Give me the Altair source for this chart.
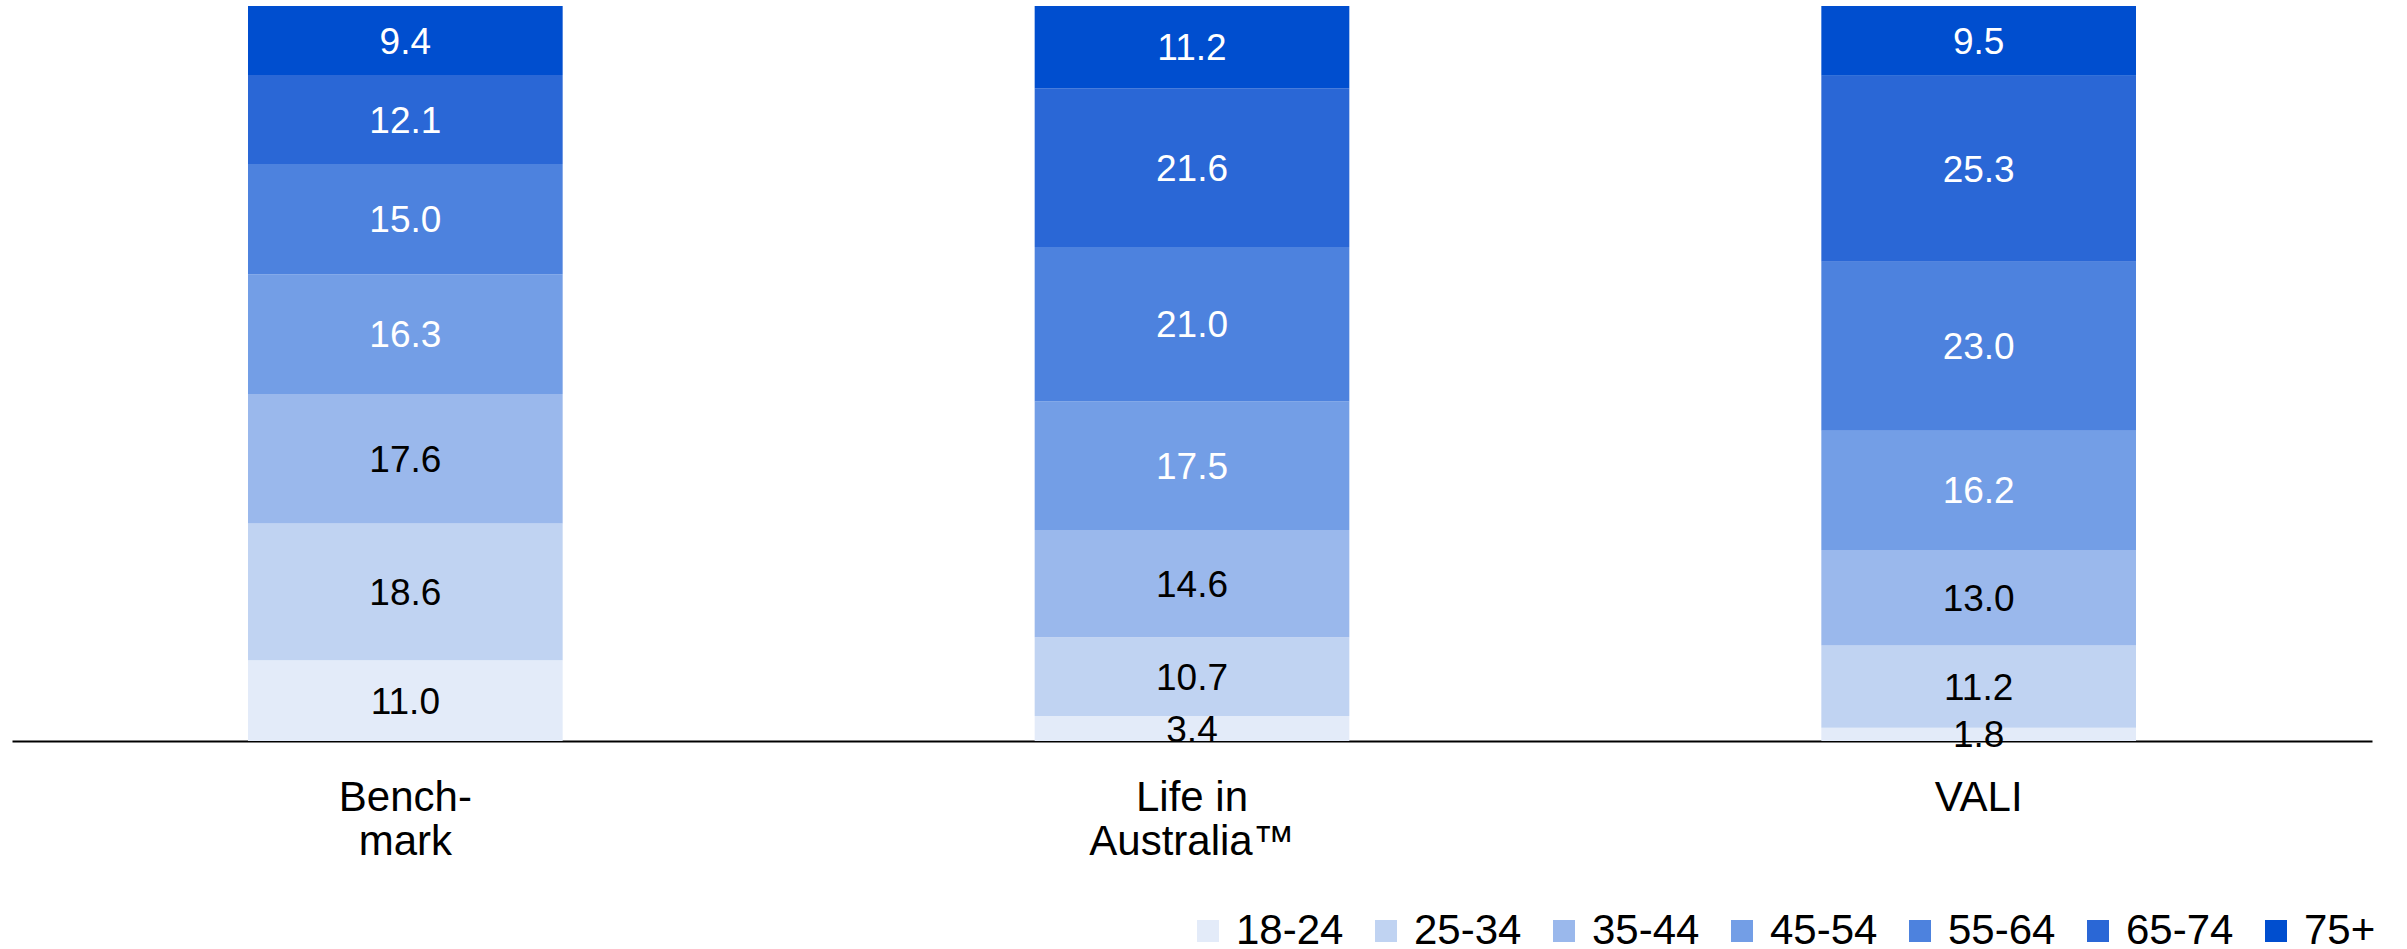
import altair as alt
import pandas as pd

categories = ["Bench-|mark", "Life in|Australia™", "VALI"]
age_groups = ["18-24", "25-34", "35-44", "45-54", "55-64", "65-74", "75+"]
colors = ["#E3EBF9", "#C0D3F2", "#9AB8EC", "#739EE6", "#4D82DE", "#2A67D6", "#004ECF"]
benchmark = [11.0, 18.6, 17.6, 16.3, 15.0, 12.1, 9.4]
life_in_australia = [3.4, 10.7, 14.6, 17.5, 21.0, 21.6, 11.2]
vali = [1.8, 11.2, 13.0, 16.2, 23.0, 25.3, 9.5]

series = [benchmark, life_in_australia, vali]
rows = []
for cat, vals in zip(categories, series):
    for i, (age, v) in enumerate(zip(age_groups, vals)):
        rows.append({"cat": cat, "age": age, "ord": i, "value": v})
df = pd.DataFrame(rows)

FONT = "Liberation Sans"

base = alt.Chart(df).transform_stack(
    stack="value", groupby=["cat"], as_=["y0", "y1"],
    sort=[alt.SortField("ord", order="ascending")]
).transform_calculate(
    mid="(datum.y0 + datum.y1) / 2",
    tc="datum.ord >= 3 ? 'white' : 'black'"
)

xenc = alt.X("cat:N", sort=categories, title=None,
             scale=alt.Scale(paddingInner=0.6, paddingOuter=0.3),
             axis=alt.Axis(labelAngle=0, labelExpr="split(datum.label, '|')",
                           labelFont=FONT, labelFontSize=42, labelColor="black",
                           labelLineHeight=44, labelPadding=36, labelBaseline="top",
                           labelLimit=600,
                           ticks=False, domainColor="black", domainWidth=2))
yscale = alt.Scale(domain=[0, 100], nice=False, zero=True)

bars = base.mark_bar().encode(
    x=xenc,
    y=alt.Y("y0:Q", scale=yscale, axis=None),
    y2="y1:Q",
    color=alt.Color("age:N", sort=age_groups,
                    scale=alt.Scale(domain=age_groups, range=colors),
                    legend=alt.Legend(title=None, orient="none", direction="horizontal",
                                      legendX=1175, legendY=904, symbolType="square",
                                      symbolSize=484, symbolStrokeWidth=0,
                                      labelFont=FONT, labelFontSize=42, labelColor="black",
                                      labelOffset=7, columnPadding=21, padding=0,
                                      labelLimit=300, symbolOpacity=1)),
)

labels = base.mark_text(font=FONT, fontSize=37, baseline="middle", align="center", dy=2).encode(
    x=alt.X("cat:N", sort=categories),
    y=alt.Y("mid:Q", scale=yscale),
    text=alt.Text("value:Q", format=".1f"),
    color=alt.Color("tc:N", scale=None, legend=None),
)

chart = alt.layer(bars, labels).properties(
    width=2360, height=735,
    autosize=alt.AutoSizeParams(type="none"),
    padding={"left": 12, "top": 6, "right": 35, "bottom": 208},
    background="white",
).configure_view(stroke=None)

chart.save("out.html", embed_options={"renderer": "svg", "actions": False})
